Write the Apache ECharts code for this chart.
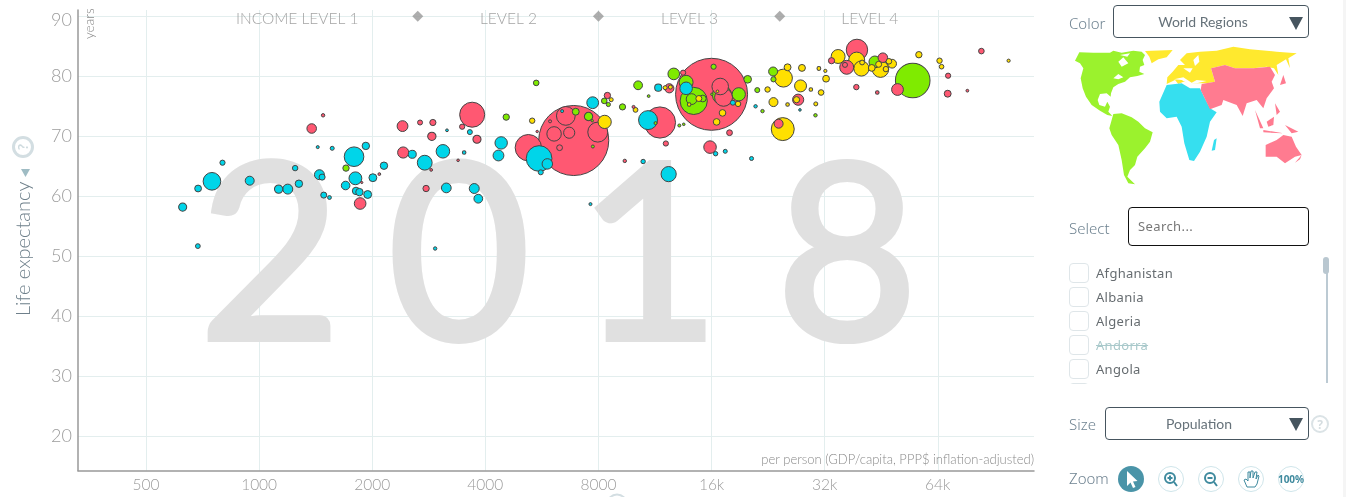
<!DOCTYPE html>
<html>
<head>
<meta charset="utf-8">
<title>Life expectancy vs income</title>
<script src="https://cdn.jsdelivr.net/npm/echarts@6/dist/echarts.min.js"></script>
<style>
html,body{margin:0;padding:0;background:#fff;overflow:hidden}
#main{position:absolute;left:0;top:0;width:1346px;height:497px}
#side{position:absolute;left:0;top:0;width:1346px;height:497px;font-family:"Noto Sans",sans-serif;pointer-events:none}
#side div,#side svg{position:absolute}
.lbl{font-size:15px;font-weight:300;color:#6f8391;line-height:20px}
.box{box-sizing:border-box;border:1px solid #46555f;border-radius:4px;text-align:center;color:#66727a;font-family:Lato,sans-serif;font-size:14px}
.arrow{width:0;height:0;border-left:7px solid transparent;border-right:7px solid transparent;border-top:13px solid #46555f}
.chk{box-sizing:border-box;left:1069px;width:20px;height:20px;border:1px solid #dfe6e9;border-radius:4px;background:#fff}
.name{left:1096px;font-size:13px;letter-spacing:.3px;color:#666c70;line-height:20px}
</style>
</head>
<body>
<div id="main"></div>
<div id="side">
  <div style="left:1343px;top:0;width:3px;height:497px;background:#f5f5f5"></div>

  <div class="lbl" style="left:1069px;top:13px">Color</div>
  <div class="box" style="left:1113px;top:5px;width:196px;height:33px;line-height:31px;padding-right:16px">World Regions</div>
  <div class="arrow" style="left:1289px;top:17px"></div>

  <svg style="left:1050px;top:0" width="296" height="250" viewBox="0 0 888 750">
    <g fill="#9bf22d">
      <path d="M75,182 88,157 130,158 180,158 190,152 215,158 250,152 275,155 285,165 278,180 283,195 270,200 268,215 283,222 262,228 240,232 225,245 205,252 190,262 183,280 182,290 170,280 150,282 143,300 148,315 165,320 172,305 180,320 175,335 187,348 172,345 150,332 125,315 108,290 98,265 92,235 100,205 90,190Z"/>
      <path d="M190,342 215,340 245,352 265,365 285,385 308,397 300,425 285,445 262,470 255,495 240,510 232,530 255,553 235,550 222,525 215,480 205,435 185,405 178,385Z"/>
    </g>
    <path fill="#fff" d="M205,185 220,172 235,190 215,200Z M190,235 205,222 220,232 205,238Z M210,165 240,160 232,170Z"/>
    <g fill="#ffe92e">
      <path d="M285,153 368,150 350,172 325,178 305,190 298,170Z"/>
      <path d="M350,252 352,232 368,215 385,195 405,195 390,180 410,160 450,155 500,152 550,140 600,148 680,155 740,160 715,175 720,205 708,178 680,195 685,225 672,205 650,200 610,205 555,205 525,195 483,205 495,245 470,250 430,250 400,245 385,252 375,240Z"/>
    </g>
    <path fill="#fff" d="M372,238 400,232 425,248 440,240 470,243 440,250 415,252 395,240Z M430,180 445,165 448,185 435,198Z M400,205 428,205 420,218Z"/>
    <g fill="#36dfef">
      <path d="M350,255 395,250 420,265 450,265 462,290 480,325 500,337 480,365 470,410 450,455 432,483 418,480 403,430 395,380 380,350 350,355 330,335 328,305Z"/>
      <path d="M492,420 500,415 495,450 485,452Z"/>
    </g>
    <g fill="#ff7b90">
      <path d="M483,205 525,195 555,205 610,205 660,200 675,225 665,245 672,265 650,295 640,325 620,300 590,310 578,348 560,315 520,300 515,315 480,328 452,270 455,252 495,245Z"/>
      <path d="M647,435 680,420 700,405 725,410 738,440 755,465 735,470 705,490 680,470 647,470Z"/>
      <path d="M650,365 672,350 670,375 655,380Z M615,330 640,385 630,385Z M640,390 700,400 640,397Z M705,375 745,395 725,400Z M675,310 690,335 680,345Z M700,225 708,250 690,255Z M735,488 755,465 750,478Z"/>
    </g>
  </svg>

  <div class="lbl" style="left:1069px;top:218px">Select</div>
  <div class="box" style="left:1128px;top:207px;width:181px;height:39px;border-color:#111;text-align:left;padding-left:9px;line-height:37px;font-family:'Noto Sans',sans-serif;font-size:13px;letter-spacing:.4px;color:#777">Search...</div>

  <div style="left:1060px;top:258px;width:250px;height:126px;overflow:hidden">
    <div class="chk" style="left:9px;top:5px"></div><div class="name" style="left:36px;top:5px">Afghanistan</div>
    <div class="chk" style="left:9px;top:29px"></div><div class="name" style="left:36px;top:29px">Albania</div>
    <div class="chk" style="left:9px;top:53px"></div><div class="name" style="left:36px;top:53px">Algeria</div>
    <div class="chk" style="left:9px;top:77px"></div><div class="name" style="left:36px;top:77px;color:#a9c9cb;text-decoration:line-through">Andorra</div>
    <div class="chk" style="left:9px;top:101px"></div><div class="name" style="left:36px;top:101px">Angola</div>
    <div class="chk" style="left:9px;top:125px"></div>
  </div>
  <div style="left:1325.5px;top:258px;width:2px;height:125px;background:#bccad3"></div>
  <div style="left:1323px;top:257px;width:6px;height:17px;border-radius:3px;background:#b9c7d0"></div>

  <div class="lbl" style="left:1069px;top:414px">Size</div>
  <div class="box" style="left:1105px;top:407px;width:204px;height:33px;line-height:31px;padding-right:16px">Population</div>
  <div class="arrow" style="left:1289px;top:418px"></div>
  <svg style="left:1310px;top:414px" width="20" height="20">
    <circle cx="10" cy="10" r="8" fill="none" stroke="#dbe3e6" stroke-width="2"/>
    <text x="10" y="14.5" text-anchor="middle" font-size="12" font-weight="700" font-family="Noto Sans" fill="#d5dde0">?</text>
  </svg>

  <div class="lbl" style="left:1069px;top:468px">Zoom</div>
  <svg style="left:1110px;top:460px" width="200" height="37">
    <circle cx="21" cy="19" r="13" fill="#4a94a8"/>
    <path d="M17,11 17,26 20.5,22.5 23,28 25.5,27 23,21.5 27.5,21Z" fill="#fff"/>
    <g fill="none" stroke="#cfe5ea"><circle cx="61" cy="19" r="12.5"/><circle cx="101" cy="19" r="12.5"/><circle cx="141" cy="19" r="12.5"/><circle cx="181" cy="19" r="12.5"/></g>
    <g fill="none" stroke="#3f8a9e" stroke-width="2">
      <circle cx="60" cy="18" r="5"/><path d="M64,22 67,26 M57.5,18H62.5 M60,15.5V20.5"/>
      <circle cx="100" cy="18" r="5"/><path d="M104,22 107,26 M97.5,18H102.5"/>
    </g>
    <path d="M137,27 134,20 136,19 138,21 138,12 140,12 140,18 141,11 143,11 143,18 145,12 147,12 146,19 148,15 149,16 147,24 145,27Z" fill="none" stroke="#3f8a9e"/>
    <text x="181" y="23" text-anchor="middle" font-size="10" font-weight="700" font-family="Noto Sans" fill="#3f8a9e">100%</text>
  </svg>
</div>

<script>
// bubbles: [income per person, life expectancy, population in millions]
var africa = [
  [626,58.2,18],[688,61.3,12.6],[687,51.7,6.3],[749,62.5,85],[799,65.6,7.4],[944,62.6,22],[1127,61.2,19],[1192,61.2,27],
  [1276,62.1,15],[1247,64.7,8],[1432,68.2,2.5],[1565,68,4.4],[1447,63.6,27],[1471,63.2,10],[1486,60.2,10],[1539,59.8,4],
  [1789,66.6,105],[1923,68.4,15],[2149,65.1,15],[1699,61.8,20],[1804,63,45],[2008,63.1,17],[1811,60.9,15],[1849,60.7,15],
  [1945,60.3,17],[2556,67,17.5],[2759,65.6,60],[3084,67.5,50],[3162,71,2.1],[3638,70.7,6.8],[3513,67.3,3.5],[3149,61.4,26],
  [3737,61.3,27],[3831,59.6,21],[2941,51.3,3.2],[4407,68.9,42],[4335,66.8,32],[5560,66.3,180],[5848,65.4,30],[5618,64,6.8],
  [7722,75.6,38],[6403,74.2,2.5],[10840,72.7,98],[11540,78.1,14],[13690,78,43],[12300,63.7,63],[10520,65.8,5.3],[16400,67.1,5.3],
  [17400,67.5,4.4],[20440,66.3,4.4],[18230,75.6,6.8],[20950,75,3.2],[27500,74.4,1.8],[7618,58.7,2.5]
];
var asia = [
  [1380,71.3,25],[1480,73.5,3.2],[1857,58.8,37],[2408,71.7,32],[2418,67.3,34],[2681,72.3,6.8],[2900,72.3,10.5],[2882,70,19],
  [2782,61.3,11],[2870,64.4,2.1],[3470,71.6,7.4],[3690,73.6,171],[3800,69.5,18],[3385,66,1.8],[2089,63.7,2.1],[1876,62.3,1.3],
  [6875,69.3,1340],[5206,68.1,190],[6550,73.4,96],[6095,70.4,57],[6687,70.6,34],[7966,70.7,109],[6304,68.1,9.2],[5947,72.5,2.5],
  [5496,70.8,1.6],[8450,76.8,11],[9920,74.9,2.5],[9400,65.9,3.2],[11660,72.3,266],[12090,68.8,7.4],[15850,68.2,43],[17860,70.6,9.2],
  [16000,77,1415],[13440,80.6,7.4],[12350,78,23],[16870,78.3,75],[17220,76.5,88],[27200,76.1,34],[24130,72.1,22],[39000,84.4,125],
  [33370,82.6,10.5],[36620,81.5,53],[36240,81.9,6.8],[45700,83.1,25],[50000,77.8,38],[38850,78.2,8],[44170,77.3,3.5],[68000,77.1,13],
  [68170,80.1,7.4],[83600,84.2,8.6],[76720,77.6,2.1]
];
var americas = [
  [1703,64.7,11],[4546,73.2,11],[5463,78.9,8.6],[6960,74.1,13],[7528,73.3,19],[8290,75.9,8.6],[8500,75.3,4.8],[7700,72.6,1.6],
  [7730,68.3,2.5],[9270,74.9,10.5],[10200,78.5,21],[10880,76.7,2.1],[11350,72.2,2.5],[13130,71.8,2.5],[13490,72,1.8],[12690,80.4,37],
  [13690,79,53],[14340,75.9,202],[14160,76.2,32],[15160,76.3,12.6],[16200,81.6,7.4],[19960,79.5,16],[18900,77,48],[17050,76.9,100],
  [16030,77,1.6],[21170,77.7,6.8],[21860,74.2,3.2],[23330,80.8,22],[23380,79.5,7.4],[30240,73.5,3.2],[54880,79.3,327],[43520,82.4,38]
];
var europe = [
  [5330,72.6,8],[8310,72.4,48],[8650,76.1,4.4],[10040,74.4,6.3],[12040,78.1,4.4],[12430,78.2,4.4],[14800,76.3,9.8],[13950,75.3,3.5],
  [16590,77.5,1.8],[17110,73.9,12],[16500,72.4,12],[18820,75.4,8],[22550,77.8,8],[24850,79.7,88],[25490,81.5,13],[27840,81.4,13],
  [27600,78.4,39],[23380,75.7,22],[24750,71.2,144],[25490,75.3,3.5],[26930,76.1,10.5],[29400,77.8,3.5],[31300,77.3,8.6],[30300,75.4,4.4],
  [30880,81.3,3.9],[32130,80.9,2.8],[32270,79.6,12.6],[34750,83.3,53],[38930,82.7,70],[40250,82.3,6.3],[40080,81.3,63],[45040,81.2,75],
  [42700,81.4,12.6],[44540,82,9.8],[48370,82.1,21],[47440,82.5,8.6],[46560,81.2,8],[56990,83.6,11],[64680,82.6,8],[65500,81.6,5.8],
  [98770,82.6,2.8]
];
var xTicks = [500, 1000, 2000, 4000, 8000, 16000, 32000, 64000];
var xTickLabels = ['500', '1000', '2000', '4000', '8000', '16k', '32k', '64k'];
var yTicks = [20, 30, 40, 50, 60, 70, 80, 90];
var levelNames = ['INCOME LEVEL 1', 'LEVEL 2', 'LEVEL 3', 'LEVEL 4'];
var levelCenters = [1263, 4608, 13980, 42200];
var levelBorders = [2643, 8000, 24300];
var yearDigits = ['2', '0', '1', '8'];

var regionColors = {africa: '#00d5e9', asia: '#ff5872', americas: '#7feb00', europe: '#ffe000'};

function tagged(list, region) {
    return list.map(function (d) { return [d[0], d[1], d[2], region]; });
}
// biggest first so the small countries stay visible on top
var bubbles = [].concat(tagged(africa, 'africa'), tagged(asia, 'asia'), tagged(americas, 'americas'), tagged(europe, 'europe'));
bubbles.sort(function (a, b) { return b[2] - a[2]; });

var myChart = echarts.init(document.getElementById('main'));

var yearX = [270, 459, 649, 847];
var graphics = yearDigits.map(function (d, i) {
    return {
        type: 'text', z: 1, silent: true,
        x: yearX[i], y: 260,
        style: {text: d, fill: '#e0e0e0', stroke: '#e0e0e0', lineWidth: 6, lineJoin: 'round', font: '400 244px Lato', align: 'center', verticalAlign: 'middle'}
    };
});
graphics.push(
    {type: 'text', z: 3, x: 1034, y: 460, silent: true,
        style: {text: 'per person (GDP/capita, PPP$ inflation-adjusted)', fill: '#8a8a8a', font: '300 13px Lato', align: 'right', verticalAlign: 'middle'}},
    {type: 'text', z: 3, x: 90, y: 39, rotation: Math.PI / 2, silent: true,
        style: {text: 'years', fill: '#8a8a8a', font: '300 13.5px Lato', align: 'left', verticalAlign: 'middle'}},
    {type: 'text', z: 3, x: 24, y: 316, rotation: Math.PI / 2, silent: true,
        style: {text: 'Life expectancy', fill: '#6f808b', font: '300 20px Lato', align: 'left', verticalAlign: 'middle'}},
    {type: 'polygon', z: 3, silent: true, shape: {points: [[21, 169], [30, 169], [25.5, 177]]}, style: {fill: '#9fbcc4'}},
    {type: 'circle', z: 3, silent: true, shape: {cx: 23, cy: 147, r: 9.5}, style: {fill: 'none', stroke: '#d3dee2', lineWidth: 3}},
    {type: 'text', z: 3, x: 23, y: 147, rotation: Math.PI / 2, silent: true,
        style: {text: '?', fill: '#cfdbdf', font: '700 14px Lato', align: 'center', verticalAlign: 'middle'}},
    {type: 'circle', z: 3, silent: true, shape: {cx: 617, cy: 504, r: 9.5}, style: {fill: 'none', stroke: '#d3dee2', lineWidth: 2}}
);

option = {
    animation: false,
    backgroundColor: '#fff',
    textStyle: {fontFamily: 'Lato'},
    grid: {left: 78, top: 10, width: 956, height: 460.7, outerBoundsMode: 'none'},
    xAxis: {
        type: 'log',
        logBase: 2,
        min: 329.6,
        max: 115400,
        axisLine: {show: true, lineStyle: {color: '#999', width: 1.5}},
        axisTick: {show: false, customValues: xTicks},
        splitLine: {show: true, customValues: xTicks, lineStyle: {color: '#e3eeee', width: 1}},
        axisLabel: {
            customValues: xTicks, color: '#9c9c9c', fontSize: 15.5, fontWeight: 300, margin: 6,
            formatter: function (v) { return xTickLabels[xTicks.indexOf(Math.round(v))]; }
        }
    },
    yAxis: {
        type: 'value',
        min: 14.27,
        max: 91.05,
        axisLine: {show: true, lineStyle: {color: '#999', width: 1.5}},
        axisTick: {show: false, customValues: yTicks},
        splitLine: {show: true, customValues: yTicks, lineStyle: {color: '#e3eeee', width: 1}},
        axisLabel: {
            customValues: yTicks, color: '#9c9c9c', fontSize: 18, fontWeight: 300, margin: 6,
            // the top tick label sits a little below its line
            formatter: function (v) { return v === 90 ? '{top|90}' : String(v); },
            rich: {top: {color: '#9c9c9c', fontSize: 18, fontWeight: 300, padding: [8, 0, 0, 0]}}
        }
    },
    graphic: graphics,
    series: [
        {
            type: 'scatter',
            z: 5,
            silent: true,
            data: bubbles,
            symbolSize: function (v) { return 72 * Math.sqrt(v[2] / 1415); },
            itemStyle: {
                color: function (p) { return regionColors[p.value[3]]; },
                borderColor: '#444',
                borderWidth: 1,
                opacity: 1
            }
        },
        {
            type: 'scatter',
            z: 4,
            silent: true,
            symbol: 'diamond',
            symbolSize: 11,
            itemStyle: {color: '#999'},
            data: levelBorders.map(function (x) { return [x, 90]; })
        },
        {
            type: 'scatter',
            z: 4,
            silent: true,
            symbolSize: 0,
            label: {
                show: true, position: 'inside', color: '#8c8c8c', fontSize: 15.5, fontWeight: 300,
                formatter: function (p) { return levelNames[p.dataIndex]; }
            },
            data: levelCenters.map(function (x) { return [x, 89.6]; })
        }
    ]
};
myChart.setOption(option);
</script>
</body>
</html>
